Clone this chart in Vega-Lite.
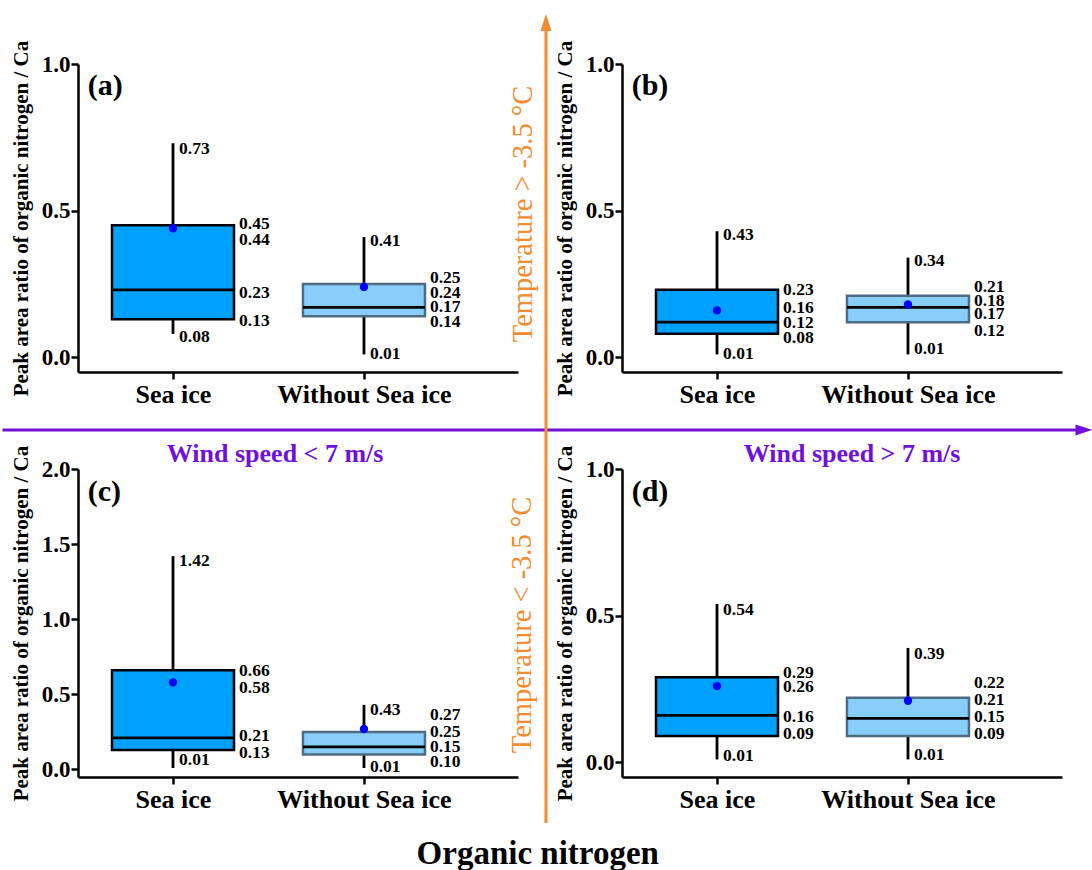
{
  "$schema": "https://vega.github.io/schema/vega-lite/v6.json",
  "background": "white",
  "padding": {"left": 0, "top": 13, "right": 0, "bottom": 0},
  "autosize": {"type": "pad"},
  "config": {
    "font": "Liberation Serif",
    "view": {"stroke": null},
    "axis": {"domainColor": "black", "domainWidth": 2.5, "tickColor": "black", "tickWidth": 2.5, "tickSize": 7, "labelColor": "black", "labelFont": "Liberation Serif", "labelFontWeight": "bold", "titleFont": "Liberation Serif", "titleFontWeight": "bold", "titleColor": "black", "grid": false},
    "axisY": {"labelFontSize": 23, "labelPadding": 1, "titleFontSize": 21, "titlePadding": 10},
    "axisX": {"labelFontSize": 26, "labelPadding": 2, "labelAngle": 0},
    "text": {"font": "Liberation Serif"},
    "title": {"font": "Liberation Serif"}
  },
  "datasets": {
    "stats": [
      {"panel": "a", "group": "Sea ice", "min": 0.08, "q1": 0.13, "median": 0.23, "mean": 0.44, "q3": 0.45, "max": 0.73},
      {"panel": "a", "group": "Without Sea ice", "min": 0.01, "q1": 0.14, "median": 0.17, "mean": 0.24, "q3": 0.25, "max": 0.41},
      {"panel": "b", "group": "Sea ice", "min": 0.01, "q1": 0.08, "median": 0.12, "mean": 0.16, "q3": 0.23, "max": 0.43},
      {"panel": "b", "group": "Without Sea ice", "min": 0.01, "q1": 0.12, "median": 0.17, "mean": 0.18, "q3": 0.21, "max": 0.34},
      {"panel": "c", "group": "Sea ice", "min": 0.01, "q1": 0.13, "median": 0.21, "mean": 0.58, "q3": 0.66, "max": 1.42},
      {"panel": "c", "group": "Without Sea ice", "min": 0.01, "q1": 0.10, "median": 0.15, "mean": 0.27, "q3": 0.25, "max": 0.43},
      {"panel": "d", "group": "Sea ice", "min": 0.01, "q1": 0.09, "median": 0.16, "mean": 0.26, "q3": 0.29, "max": 0.54},
      {"panel": "d", "group": "Without Sea ice", "min": 0.01, "q1": 0.09, "median": 0.15, "mean": 0.21, "q3": 0.22, "max": 0.39}
    ],
    "labels": [
      {"panel": "a", "group": "Sea ice", "kind": "whisker", "text": "0.73", "ly": 0.709},
      {"panel": "a", "group": "Sea ice", "kind": "whisker", "text": "0.08", "ly": 0.068},
      {"panel": "a", "group": "Sea ice", "kind": "box", "text": "0.45", "ly": 0.456},
      {"panel": "a", "group": "Sea ice", "kind": "box", "text": "0.44", "ly": 0.401},
      {"panel": "a", "group": "Sea ice", "kind": "box", "text": "0.23", "ly": 0.218},
      {"panel": "a", "group": "Sea ice", "kind": "box", "text": "0.13", "ly": 0.124},
      {"panel": "a", "group": "Without Sea ice", "kind": "whisker", "text": "0.41", "ly": 0.396},
      {"panel": "a", "group": "Without Sea ice", "kind": "whisker", "text": "0.01", "ly": 0.011},
      {"panel": "a", "group": "Without Sea ice", "kind": "box", "text": "0.25", "ly": 0.269},
      {"panel": "a", "group": "Without Sea ice", "kind": "box", "text": "0.24", "ly": 0.219},
      {"panel": "a", "group": "Without Sea ice", "kind": "box", "text": "0.17", "ly": 0.171},
      {"panel": "a", "group": "Without Sea ice", "kind": "box", "text": "0.14", "ly": 0.122},
      {"panel": "b", "group": "Sea ice", "kind": "whisker", "text": "0.43", "ly": 0.418},
      {"panel": "b", "group": "Sea ice", "kind": "whisker", "text": "0.01", "ly": 0.010},
      {"panel": "b", "group": "Sea ice", "kind": "box", "text": "0.23", "ly": 0.228},
      {"panel": "b", "group": "Sea ice", "kind": "box", "text": "0.16", "ly": 0.169},
      {"panel": "b", "group": "Sea ice", "kind": "box", "text": "0.12", "ly": 0.116},
      {"panel": "b", "group": "Sea ice", "kind": "box", "text": "0.08", "ly": 0.067},
      {"panel": "b", "group": "Without Sea ice", "kind": "whisker", "text": "0.34", "ly": 0.328},
      {"panel": "b", "group": "Without Sea ice", "kind": "whisker", "text": "0.01", "ly": 0.030},
      {"panel": "b", "group": "Without Sea ice", "kind": "box", "text": "0.21", "ly": 0.240},
      {"panel": "b", "group": "Without Sea ice", "kind": "box", "text": "0.18", "ly": 0.193},
      {"panel": "b", "group": "Without Sea ice", "kind": "box", "text": "0.17", "ly": 0.147},
      {"panel": "b", "group": "Without Sea ice", "kind": "box", "text": "0.12", "ly": 0.089},
      {"panel": "c", "group": "Sea ice", "kind": "whisker", "text": "1.42", "ly": 1.39},
      {"panel": "c", "group": "Sea ice", "kind": "whisker", "text": "0.01", "ly": 0.06},
      {"panel": "c", "group": "Sea ice", "kind": "box", "text": "0.66", "ly": 0.654},
      {"panel": "c", "group": "Sea ice", "kind": "box", "text": "0.58", "ly": 0.543},
      {"panel": "c", "group": "Sea ice", "kind": "box", "text": "0.21", "ly": 0.222},
      {"panel": "c", "group": "Sea ice", "kind": "box", "text": "0.13", "ly": 0.111},
      {"panel": "c", "group": "Without Sea ice", "kind": "whisker", "text": "0.43", "ly": 0.394},
      {"panel": "c", "group": "Without Sea ice", "kind": "whisker", "text": "0.01", "ly": 0.015},
      {"panel": "c", "group": "Without Sea ice", "kind": "box", "text": "0.27", "ly": 0.36},
      {"panel": "c", "group": "Without Sea ice", "kind": "box", "text": "0.25", "ly": 0.249},
      {"panel": "c", "group": "Without Sea ice", "kind": "box", "text": "0.15", "ly": 0.149},
      {"panel": "c", "group": "Without Sea ice", "kind": "box", "text": "0.10", "ly": 0.053},
      {"panel": "d", "group": "Sea ice", "kind": "whisker", "text": "0.54", "ly": 0.519},
      {"panel": "d", "group": "Sea ice", "kind": "whisker", "text": "0.01", "ly": 0.021},
      {"panel": "d", "group": "Sea ice", "kind": "box", "text": "0.29", "ly": 0.306},
      {"panel": "d", "group": "Sea ice", "kind": "box", "text": "0.26", "ly": 0.257},
      {"panel": "d", "group": "Sea ice", "kind": "box", "text": "0.16", "ly": 0.156},
      {"panel": "d", "group": "Sea ice", "kind": "box", "text": "0.09", "ly": 0.097},
      {"panel": "d", "group": "Without Sea ice", "kind": "whisker", "text": "0.39", "ly": 0.371},
      {"panel": "d", "group": "Without Sea ice", "kind": "whisker", "text": "0.01", "ly": 0.025},
      {"panel": "d", "group": "Without Sea ice", "kind": "box", "text": "0.22", "ly": 0.271},
      {"panel": "d", "group": "Without Sea ice", "kind": "box", "text": "0.21", "ly": 0.214},
      {"panel": "d", "group": "Without Sea ice", "kind": "box", "text": "0.15", "ly": 0.154},
      {"panel": "d", "group": "Without Sea ice", "kind": "box", "text": "0.09", "ly": 0.097}
    ],
    "notes": [
      {"panel": "a", "item": "tag", "text": "(a)", "fx": 0.022, "fy": 0.93},
      {"panel": "b", "item": "tag", "text": "(b)", "fx": 0.022, "fy": 0.93},
      {"panel": "c", "item": "tag", "text": "(c)", "fx": 0.022, "fy": 0.925},
      {"panel": "d", "item": "tag", "text": "(d)", "fx": 0.022, "fy": 0.925},
      {"panel": "a", "item": "temp", "text": "Temperature > -3.5 °C", "fx": 1.011, "fy": 0.513},
      {"panel": "c", "item": "temp", "text": "Temperature < -3.5 °C", "fx": 1.009, "fy": 0.4935},
      {"panel": "c", "item": "wind", "text": "Wind speed < 7 m/s", "fx": 0.448, "fy": 1.049},
      {"panel": "d", "item": "wind", "text": "Wind speed > 7 m/s", "fx": 0.523, "fy": 1.049},
      {"panel": "a", "item": "hline", "fx": -0.1716, "fx2": 2.27, "fy": -0.188},
      {"panel": "a", "item": "hhead", "fx": 2.2864, "fy": -0.188},
      {"panel": "a", "item": "vline", "fx": 1.0636, "fy": 1.12, "fy2": -1.464},
      {"panel": "a", "item": "vhead", "fx": 1.0636, "fy": 1.135}
    ]
  },
  "title": {"text": "Organic nitrogen", "orient": "bottom", "anchor": "middle", "frame": "bounds", "fontSize": 33, "fontWeight": "bold", "color": "black", "offset": 14, "dx": -9},
  "columns": 2,
  "spacing": {"row": 97, "column": 104},
  "bounds": "flush",
  "concat": [
    {
      "width": 440, "height": 308,
      "resolve": {"scale": {"x": "independent", "y": "independent"}},
      "layer": [
        {
          "layer": [
            {"data": {"name": "stats"}, "transform": [{"filter": "datum.panel === 'a'"}],
             "mark": {"type": "rule", "strokeWidth": 2.8, "color": "black"},
             "encoding": {
               "x": {"field": "group", "type": "nominal", "title": null, "scale": {"type": "point", "domain": ["Sea ice", "Without Sea ice"], "padding": 0.652, "align": 0.3815}},
               "y": {"field": "min", "type": "quantitative", "title": "Peak area ratio of organic nitrogen / Ca", "scale": {"domain": [-0.05, 1], "nice": false, "zero": false}, "axis": {"values": [0, 0.5, 1], "format": ".1f"}},
               "y2": {"field": "max"}}},
            {"data": {"name": "stats"}, "transform": [{"filter": "datum.panel === 'a'"}],
             "mark": {"type": "bar", "width": 122, "strokeWidth": 2.5},
             "encoding": {
               "x": {"field": "group", "type": "nominal", "title": null},
               "y": {"field": "q1", "type": "quantitative", "title": "Peak area ratio of organic nitrogen / Ca"},
               "y2": {"field": "q3"},
               "fill": {"field": "group", "type": "nominal", "scale": {"domain": ["Sea ice", "Without Sea ice"], "range": ["#00A0FF", "#87CEFA"]}, "legend": null},
               "stroke": {"field": "group", "type": "nominal", "scale": {"domain": ["Sea ice", "Without Sea ice"], "range": ["#000000", "#4F6B80"]}, "legend": null}}},
            {"data": {"name": "stats"}, "transform": [{"filter": "datum.panel === 'a'"}],
             "mark": {"type": "tick", "size": 122, "thickness": 2.8, "color": "black", "opacity": 1},
             "encoding": {
               "x": {"field": "group", "type": "nominal", "title": null},
               "y": {"field": "median", "type": "quantitative", "title": "Peak area ratio of organic nitrogen / Ca"}}},
            {"data": {"name": "stats"}, "transform": [{"filter": "datum.panel === 'a'"}],
             "mark": {"type": "point", "filled": true, "size": 70, "color": "#0000FF", "opacity": 1},
             "encoding": {
               "x": {"field": "group", "type": "nominal", "title": null},
               "y": {"field": "mean", "type": "quantitative", "title": "Peak area ratio of organic nitrogen / Ca"}}},
            {"data": {"name": "labels"}, "transform": [{"filter": "datum.panel === 'a' && datum.kind === 'box'"}],
             "mark": {"type": "text", "align": "left", "baseline": "middle", "dx": 66, "fontSize": 17.5, "fontWeight": "bold", "color": "black"},
             "encoding": {
               "x": {"field": "group", "type": "nominal", "title": null},
               "y": {"field": "ly", "type": "quantitative", "title": "Peak area ratio of organic nitrogen / Ca"},
               "text": {"field": "text"}}},
            {"data": {"name": "labels"}, "transform": [{"filter": "datum.panel === 'a' && datum.kind === 'whisker'"}],
             "mark": {"type": "text", "align": "left", "baseline": "middle", "dx": 6, "fontSize": 17.5, "fontWeight": "bold", "color": "black"},
             "encoding": {
               "x": {"field": "group", "type": "nominal", "title": null},
               "y": {"field": "ly", "type": "quantitative", "title": "Peak area ratio of organic nitrogen / Ca"},
               "text": {"field": "text"}}}
          ]
        },
        {
          "data": {"name": "notes"},
          "layer": [
            {"transform": [{"filter": "datum.panel === 'a' && datum.item === 'hline'"}],
             "mark": {"type": "rule", "strokeWidth": 3, "color": "#7010D8"},
             "encoding": {
               "x": {"field": "fx", "type": "quantitative", "scale": {"domain": [0, 1], "nice": false, "zero": false}, "axis": null},
               "x2": {"field": "fx2"},
               "y": {"field": "fy", "type": "quantitative", "scale": {"domain": [0, 1], "nice": false, "zero": false}, "axis": null}}},
            {"transform": [{"filter": "datum.panel === 'a' && datum.item === 'hhead'"}],
             "mark": {"type": "point", "shape": "M1,0L-1,0.65L-1,-0.65Z", "filled": true, "size": 289, "color": "#7010D8", "opacity": 1},
             "encoding": {
               "x": {"field": "fx", "type": "quantitative", "axis": null},
               "y": {"field": "fy", "type": "quantitative", "axis": null}}},
            {"transform": [{"filter": "datum.panel === 'a' && datum.item === 'vline'"}],
             "mark": {"type": "rule", "strokeWidth": 3, "color": "#F28B32"},
             "encoding": {
               "x": {"field": "fx", "type": "quantitative", "axis": null},
               "y": {"field": "fy", "type": "quantitative", "axis": null},
               "y2": {"field": "fy2"}}},
            {"transform": [{"filter": "datum.panel === 'a' && datum.item === 'vhead'"}],
             "mark": {"type": "point", "shape": "M0,-1L0.65,1L-0.65,1Z", "filled": true, "size": 289, "color": "#F28B32", "opacity": 1},
             "encoding": {
               "x": {"field": "fx", "type": "quantitative", "axis": null},
               "y": {"field": "fy", "type": "quantitative", "axis": null}}},
            {"transform": [{"filter": "datum.panel === 'a' && datum.item === 'temp'"}],
             "mark": {"type": "text", "angle": 270, "align": "center", "baseline": "middle", "fontSize": 28.5, "color": "#F28B32"},
             "encoding": {
               "x": {"field": "fx", "type": "quantitative", "axis": null},
               "y": {"field": "fy", "type": "quantitative", "axis": null},
               "text": {"field": "text"}}},
            {"transform": [{"filter": "datum.panel === 'a' && datum.item === 'tag'"}],
             "mark": {"type": "text", "align": "left", "baseline": "middle", "fontSize": 30, "fontWeight": "bold", "color": "black"},
             "encoding": {
               "x": {"field": "fx", "type": "quantitative", "axis": null},
               "y": {"field": "fy", "type": "quantitative", "axis": null},
               "text": {"field": "text"}}}
          ]
        }
      ]
    },
    {
      "width": 440, "height": 308,
      "resolve": {"scale": {"x": "independent", "y": "independent"}},
      "layer": [
        {
          "layer": [
            {"data": {"name": "stats"}, "transform": [{"filter": "datum.panel === 'b'"}],
             "mark": {"type": "rule", "strokeWidth": 2.8, "color": "black"},
             "encoding": {
               "x": {"field": "group", "type": "nominal", "title": null, "scale": {"type": "point", "domain": ["Sea ice", "Without Sea ice"], "padding": 0.652, "align": 0.3815}},
               "y": {"field": "min", "type": "quantitative", "title": "Peak area ratio of organic nitrogen / Ca", "scale": {"domain": [-0.05, 1], "nice": false, "zero": false}, "axis": {"values": [0, 0.5, 1], "format": ".1f"}},
               "y2": {"field": "max"}}},
            {"data": {"name": "stats"}, "transform": [{"filter": "datum.panel === 'b'"}],
             "mark": {"type": "bar", "width": 122, "strokeWidth": 2.5},
             "encoding": {
               "x": {"field": "group", "type": "nominal", "title": null},
               "y": {"field": "q1", "type": "quantitative", "title": "Peak area ratio of organic nitrogen / Ca"},
               "y2": {"field": "q3"},
               "fill": {"field": "group", "type": "nominal", "scale": {"domain": ["Sea ice", "Without Sea ice"], "range": ["#00A0FF", "#87CEFA"]}, "legend": null},
               "stroke": {"field": "group", "type": "nominal", "scale": {"domain": ["Sea ice", "Without Sea ice"], "range": ["#000000", "#4F6B80"]}, "legend": null}}},
            {"data": {"name": "stats"}, "transform": [{"filter": "datum.panel === 'b'"}],
             "mark": {"type": "tick", "size": 122, "thickness": 2.8, "color": "black", "opacity": 1},
             "encoding": {
               "x": {"field": "group", "type": "nominal", "title": null},
               "y": {"field": "median", "type": "quantitative", "title": "Peak area ratio of organic nitrogen / Ca"}}},
            {"data": {"name": "stats"}, "transform": [{"filter": "datum.panel === 'b'"}],
             "mark": {"type": "point", "filled": true, "size": 70, "color": "#0000FF", "opacity": 1},
             "encoding": {
               "x": {"field": "group", "type": "nominal", "title": null},
               "y": {"field": "mean", "type": "quantitative", "title": "Peak area ratio of organic nitrogen / Ca"}}},
            {"data": {"name": "labels"}, "transform": [{"filter": "datum.panel === 'b' && datum.kind === 'box'"}],
             "mark": {"type": "text", "align": "left", "baseline": "middle", "dx": 66, "fontSize": 17.5, "fontWeight": "bold", "color": "black"},
             "encoding": {
               "x": {"field": "group", "type": "nominal", "title": null},
               "y": {"field": "ly", "type": "quantitative", "title": "Peak area ratio of organic nitrogen / Ca"},
               "text": {"field": "text"}}},
            {"data": {"name": "labels"}, "transform": [{"filter": "datum.panel === 'b' && datum.kind === 'whisker'"}],
             "mark": {"type": "text", "align": "left", "baseline": "middle", "dx": 6, "fontSize": 17.5, "fontWeight": "bold", "color": "black"},
             "encoding": {
               "x": {"field": "group", "type": "nominal", "title": null},
               "y": {"field": "ly", "type": "quantitative", "title": "Peak area ratio of organic nitrogen / Ca"},
               "text": {"field": "text"}}}
          ]
        },
        {
          "data": {"name": "notes"},
          "layer": [
            {"transform": [{"filter": "datum.panel === 'b' && datum.item === 'tag'"}],
             "mark": {"type": "text", "align": "left", "baseline": "middle", "fontSize": 30, "fontWeight": "bold", "color": "black"},
             "encoding": {
               "x": {"field": "fx", "type": "quantitative", "scale": {"domain": [0, 1], "nice": false, "zero": false}, "axis": null},
               "y": {"field": "fy", "type": "quantitative", "scale": {"domain": [0, 1], "nice": false, "zero": false}, "axis": null},
               "text": {"field": "text"}}}
          ]
        }
      ]
    },
    {
      "width": 440, "height": 308,
      "resolve": {"scale": {"x": "independent", "y": "independent"}},
      "layer": [
        {
          "layer": [
            {"data": {"name": "stats"}, "transform": [{"filter": "datum.panel === 'c'"}],
             "mark": {"type": "rule", "strokeWidth": 2.8, "color": "black"},
             "encoding": {
               "x": {"field": "group", "type": "nominal", "title": null, "scale": {"type": "point", "domain": ["Sea ice", "Without Sea ice"], "padding": 0.652, "align": 0.3815}},
               "y": {"field": "min", "type": "quantitative", "title": "Peak area ratio of organic nitrogen / Ca", "scale": {"domain": [-0.05, 2], "nice": false, "zero": false}, "axis": {"values": [0, 0.5, 1, 1.5, 2], "format": ".1f"}},
               "y2": {"field": "max"}}},
            {"data": {"name": "stats"}, "transform": [{"filter": "datum.panel === 'c'"}],
             "mark": {"type": "bar", "width": 122, "strokeWidth": 2.5},
             "encoding": {
               "x": {"field": "group", "type": "nominal", "title": null},
               "y": {"field": "q1", "type": "quantitative", "title": "Peak area ratio of organic nitrogen / Ca"},
               "y2": {"field": "q3"},
               "fill": {"field": "group", "type": "nominal", "scale": {"domain": ["Sea ice", "Without Sea ice"], "range": ["#00A0FF", "#87CEFA"]}, "legend": null},
               "stroke": {"field": "group", "type": "nominal", "scale": {"domain": ["Sea ice", "Without Sea ice"], "range": ["#000000", "#4F6B80"]}, "legend": null}}},
            {"data": {"name": "stats"}, "transform": [{"filter": "datum.panel === 'c'"}],
             "mark": {"type": "tick", "size": 122, "thickness": 2.8, "color": "black", "opacity": 1},
             "encoding": {
               "x": {"field": "group", "type": "nominal", "title": null},
               "y": {"field": "median", "type": "quantitative", "title": "Peak area ratio of organic nitrogen / Ca"}}},
            {"data": {"name": "stats"}, "transform": [{"filter": "datum.panel === 'c'"}],
             "mark": {"type": "point", "filled": true, "size": 70, "color": "#0000FF", "opacity": 1},
             "encoding": {
               "x": {"field": "group", "type": "nominal", "title": null},
               "y": {"field": "mean", "type": "quantitative", "title": "Peak area ratio of organic nitrogen / Ca"}}},
            {"data": {"name": "labels"}, "transform": [{"filter": "datum.panel === 'c' && datum.kind === 'box'"}],
             "mark": {"type": "text", "align": "left", "baseline": "middle", "dx": 66, "fontSize": 17.5, "fontWeight": "bold", "color": "black"},
             "encoding": {
               "x": {"field": "group", "type": "nominal", "title": null},
               "y": {"field": "ly", "type": "quantitative", "title": "Peak area ratio of organic nitrogen / Ca"},
               "text": {"field": "text"}}},
            {"data": {"name": "labels"}, "transform": [{"filter": "datum.panel === 'c' && datum.kind === 'whisker'"}],
             "mark": {"type": "text", "align": "left", "baseline": "middle", "dx": 6, "fontSize": 17.5, "fontWeight": "bold", "color": "black"},
             "encoding": {
               "x": {"field": "group", "type": "nominal", "title": null},
               "y": {"field": "ly", "type": "quantitative", "title": "Peak area ratio of organic nitrogen / Ca"},
               "text": {"field": "text"}}}
          ]
        },
        {
          "data": {"name": "notes"},
          "layer": [
            {"transform": [{"filter": "datum.panel === 'c' && datum.item === 'tag'"}],
             "mark": {"type": "text", "align": "left", "baseline": "middle", "fontSize": 30, "fontWeight": "bold", "color": "black"},
             "encoding": {
               "x": {"field": "fx", "type": "quantitative", "scale": {"domain": [0, 1], "nice": false, "zero": false}, "axis": null},
               "y": {"field": "fy", "type": "quantitative", "scale": {"domain": [0, 1], "nice": false, "zero": false}, "axis": null},
               "text": {"field": "text"}}},
            {"transform": [{"filter": "datum.panel === 'c' && datum.item === 'temp'"}],
             "mark": {"type": "text", "angle": 270, "align": "center", "baseline": "middle", "fontSize": 28.5, "color": "#F28B32"},
             "encoding": {
               "x": {"field": "fx", "type": "quantitative", "axis": null},
               "y": {"field": "fy", "type": "quantitative", "axis": null},
               "text": {"field": "text"}}},
            {"transform": [{"filter": "datum.panel === 'c' && datum.item === 'wind'"}],
             "mark": {"type": "text", "align": "center", "baseline": "middle", "fontSize": 26, "fontWeight": "bold", "color": "#7010D8"},
             "encoding": {
               "x": {"field": "fx", "type": "quantitative", "axis": null},
               "y": {"field": "fy", "type": "quantitative", "axis": null},
               "text": {"field": "text"}}}
          ]
        }
      ]
    },
    {
      "width": 440, "height": 308,
      "resolve": {"scale": {"x": "independent", "y": "independent"}},
      "layer": [
        {
          "layer": [
            {"data": {"name": "stats"}, "transform": [{"filter": "datum.panel === 'd'"}],
             "mark": {"type": "rule", "strokeWidth": 2.8, "color": "black"},
             "encoding": {
               "x": {"field": "group", "type": "nominal", "title": null, "scale": {"type": "point", "domain": ["Sea ice", "Without Sea ice"], "padding": 0.652, "align": 0.3815}},
               "y": {"field": "min", "type": "quantitative", "title": "Peak area ratio of organic nitrogen / Ca", "scale": {"domain": [-0.05, 1], "nice": false, "zero": false}, "axis": {"values": [0, 0.5, 1], "format": ".1f"}},
               "y2": {"field": "max"}}},
            {"data": {"name": "stats"}, "transform": [{"filter": "datum.panel === 'd'"}],
             "mark": {"type": "bar", "width": 122, "strokeWidth": 2.5},
             "encoding": {
               "x": {"field": "group", "type": "nominal", "title": null},
               "y": {"field": "q1", "type": "quantitative", "title": "Peak area ratio of organic nitrogen / Ca"},
               "y2": {"field": "q3"},
               "fill": {"field": "group", "type": "nominal", "scale": {"domain": ["Sea ice", "Without Sea ice"], "range": ["#00A0FF", "#87CEFA"]}, "legend": null},
               "stroke": {"field": "group", "type": "nominal", "scale": {"domain": ["Sea ice", "Without Sea ice"], "range": ["#000000", "#4F6B80"]}, "legend": null}}},
            {"data": {"name": "stats"}, "transform": [{"filter": "datum.panel === 'd'"}],
             "mark": {"type": "tick", "size": 122, "thickness": 2.8, "color": "black", "opacity": 1},
             "encoding": {
               "x": {"field": "group", "type": "nominal", "title": null},
               "y": {"field": "median", "type": "quantitative", "title": "Peak area ratio of organic nitrogen / Ca"}}},
            {"data": {"name": "stats"}, "transform": [{"filter": "datum.panel === 'd'"}],
             "mark": {"type": "point", "filled": true, "size": 70, "color": "#0000FF", "opacity": 1},
             "encoding": {
               "x": {"field": "group", "type": "nominal", "title": null},
               "y": {"field": "mean", "type": "quantitative", "title": "Peak area ratio of organic nitrogen / Ca"}}},
            {"data": {"name": "labels"}, "transform": [{"filter": "datum.panel === 'd' && datum.kind === 'box'"}],
             "mark": {"type": "text", "align": "left", "baseline": "middle", "dx": 66, "fontSize": 17.5, "fontWeight": "bold", "color": "black"},
             "encoding": {
               "x": {"field": "group", "type": "nominal", "title": null},
               "y": {"field": "ly", "type": "quantitative", "title": "Peak area ratio of organic nitrogen / Ca"},
               "text": {"field": "text"}}},
            {"data": {"name": "labels"}, "transform": [{"filter": "datum.panel === 'd' && datum.kind === 'whisker'"}],
             "mark": {"type": "text", "align": "left", "baseline": "middle", "dx": 6, "fontSize": 17.5, "fontWeight": "bold", "color": "black"},
             "encoding": {
               "x": {"field": "group", "type": "nominal", "title": null},
               "y": {"field": "ly", "type": "quantitative", "title": "Peak area ratio of organic nitrogen / Ca"},
               "text": {"field": "text"}}}
          ]
        },
        {
          "data": {"name": "notes"},
          "layer": [
            {"transform": [{"filter": "datum.panel === 'd' && datum.item === 'tag'"}],
             "mark": {"type": "text", "align": "left", "baseline": "middle", "fontSize": 30, "fontWeight": "bold", "color": "black"},
             "encoding": {
               "x": {"field": "fx", "type": "quantitative", "scale": {"domain": [0, 1], "nice": false, "zero": false}, "axis": null},
               "y": {"field": "fy", "type": "quantitative", "scale": {"domain": [0, 1], "nice": false, "zero": false}, "axis": null},
               "text": {"field": "text"}}},
            {"transform": [{"filter": "datum.panel === 'd' && datum.item === 'wind'"}],
             "mark": {"type": "text", "align": "center", "baseline": "middle", "fontSize": 26, "fontWeight": "bold", "color": "#7010D8"},
             "encoding": {
               "x": {"field": "fx", "type": "quantitative", "axis": null},
               "y": {"field": "fy", "type": "quantitative", "axis": null},
               "text": {"field": "text"}}}
          ]
        }
      ]
    }
  ]
}
